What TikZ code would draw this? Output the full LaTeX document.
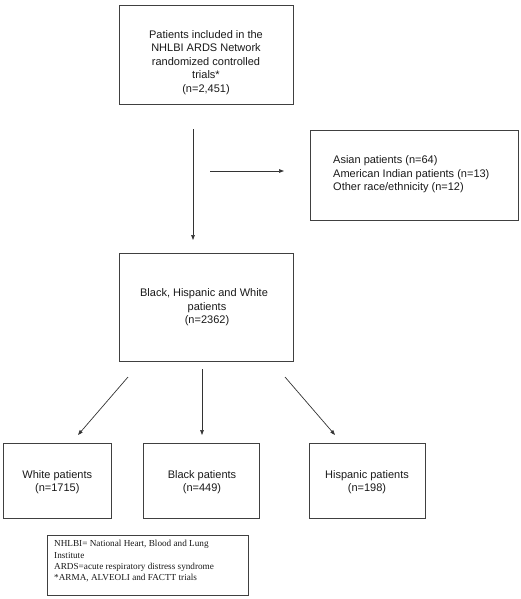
\documentclass[tikz,border=0pt]{standalone}
\usepackage{fontspec}
\setmainfont{Liberation Sans}
\newfontfamily\notefont{Liberation Serif}
\usetikzlibrary{arrows.meta}
\begin{document}
\begin{tikzpicture}[x=1pt,y=-1pt,
  box/.style={draw=black!75,line width=0.8pt,inner sep=0pt},
  lbl/.style={font=\fontsize{11}{13.4}\selectfont,align=center,inner sep=0pt,text=black!90},
  note/.style={font=\notefont\fontsize{9.2}{11.3}\selectfont,align=left,inner sep=0pt,text=black!90},
  arr/.style={draw=black!80,line width=0.7pt,-{Triangle[length=5pt,width=3.6pt]}}]
\useasboundingbox (0,0) rectangle (520,599);
% boxes
\node[box,minimum width=174pt,minimum height=99pt] (top) at (206,54.5) {};
\node[lbl] (toptext) at (206,62.5) {Patients included in the\\NHLBI ARDS Network\\randomized controlled\\trials*\\(n=2,451)};
\node[box,minimum width=208pt,minimum height=90pt] (other) at (414,175) {};
\node[lbl,align=left,anchor=west] (othertext) at (333,174.3) {Asian patients (n=64)\\American Indian patients (n=13)\\Other race/ethnicity (n=12)};
\node[box,minimum width=174pt,minimum height=108pt] (mid) at (206,307) {};
\node[lbl] (midtext) at (207,307.5) {Black, Hispanic and White\hspace*{6pt}\\patients\\(n=2362)};
\node[box,minimum width=108pt,minimum height=75pt] (white) at (57,480.5) {};
\node[lbl] (whitetext) at (57.3,482) {White patients\\(n=1715)};
\node[box,minimum width=116pt,minimum height=75pt] (black) at (201,480.5) {};
\node[lbl] (blacktext) at (202,482) {Black patients\\(n=449)};
\node[box,minimum width=116pt,minimum height=75pt] (hisp) at (367,480.5) {};
\node[lbl] (hisptext) at (367,482) {Hispanic patients\\(n=198)};
\node[box,minimum width=201pt,minimum height=60pt] (notebox) at (147.5,565) {};
\node[note,anchor=north west] (notetext) at (54,540.2) {NHLBI= National Heart, Blood and Lung\\Institute\\ARDS=acute respiratory distress syndrome\\*ARMA, ALVEOLI and FACTT trials};
% connector ends
\coordinate (a1s) at (193,129);
\coordinate (a1e) at (193,240);
\coordinate (a2s) at (210,171);
\coordinate (a2e) at (284,171);
\coordinate (a3s) at (128,377);
\coordinate (a3e) at (78,435);
\coordinate (a4s) at (202,369);
\coordinate (a4e) at (202,435);
\coordinate (a5s) at (285,377);
\coordinate (a5e) at (335,435);
\draw[arr] (a1s) -- (a1e);
\draw[arr] (a2s) -- (a2e);
\draw[arr] (a3s) -- (a3e);
\draw[arr] (a4s) -- (a4e);
\draw[arr] (a5s) -- (a5e);
\end{tikzpicture}
\end{document}
